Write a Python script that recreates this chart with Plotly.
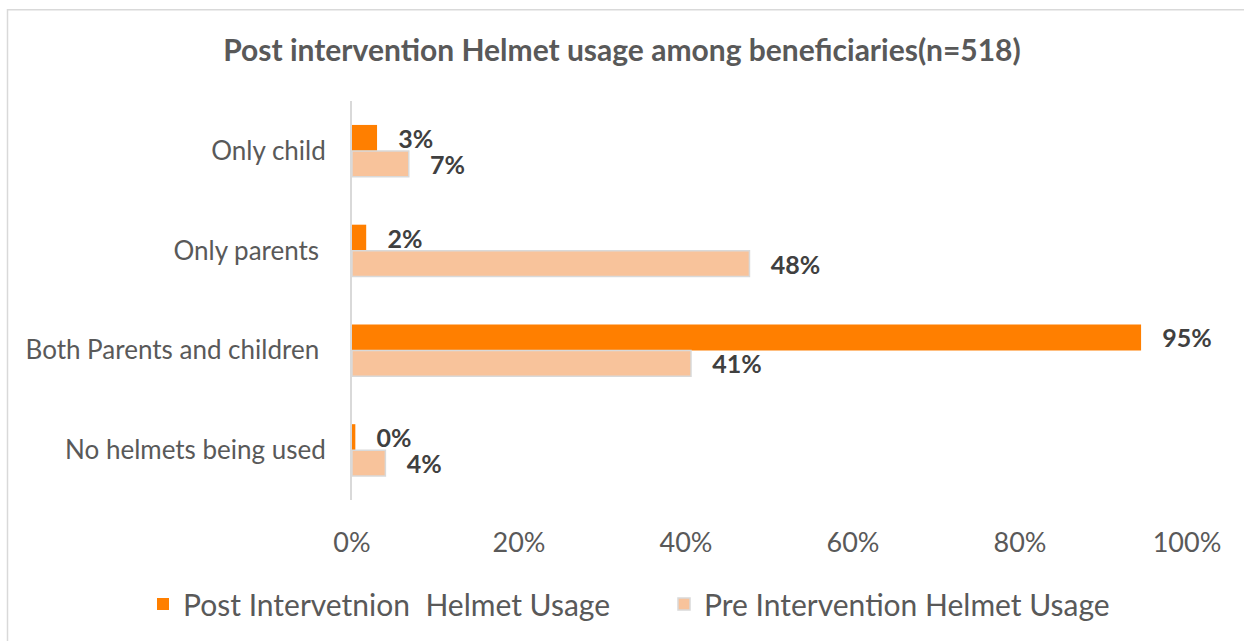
import plotly.graph_objects as go

categories = ["Only child", "Only parents ", "Both Parents and children ", "No helmets being used"]
post_values = [0.03, 0.017, 0.945, 0.004]
post_labels = ["3%", "2%", "95%", "0%"]
pre_values = [0.068, 0.476, 0.406, 0.04]
pre_labels = ["7%", "48%", "41%", "4%"]
series_names = ["Post Intervetnion  Helmet Usage", "Pre Intervention Helmet Usage"]
tick_vals = [0, 0.2, 0.4, 0.6, 0.8, 1.0]
tick_text = ["0%", "20%", "40%", "60%", "80%", "100%"]

FONT = "Lato"
pad = "\u00a0\u00a0\u00a0"
W, H = 1244, 641
L, R, T, B = 352, 57, 101, 140
PW, PH = W - L - R, H - T - B

fig = go.Figure()
fig.add_trace(go.Bar(
    y=categories, x=post_values, name=series_names[0], orientation="h",
    marker=dict(color="#FF7F00", line=dict(width=0)),
    text=[pad + t for t in post_labels], textposition="outside", cliponaxis=False,
    constraintext="none",
    textfont=dict(family=FONT, size=25, color="#404040", weight="bold"),
))
fig.add_trace(go.Bar(
    y=categories, x=pre_values, name=series_names[1], orientation="h",
    marker=dict(color="#F8C39B", line=dict(width=1.5, color="#D9D9D9")),
    text=[pad + t for t in pre_labels], textposition="outside", cliponaxis=False,
    constraintext="none",
    textfont=dict(family=FONT, size=25, color="#404040", weight="bold"),
))

fig.update_layout(
    width=W, height=H,
    barmode="group", bargap=0.48, bargroupgap=0,
    plot_bgcolor="white", paper_bgcolor="white",
    margin=dict(l=L, r=R, t=T, b=B),
    title=dict(text="<b>Post intervention Helmet usage among beneficiaries(n=518)</b>",
               x=0.5, xanchor="center", y=1 - 50 / H, yanchor="middle",
               font=dict(family=FONT, size=30, color="#595959")),
    legend=dict(orientation="h", x=(143 - L) / PW, xanchor="left",
                y=-(604 - (T + PH)) / PH, yanchor="middle",
                font=dict(family=FONT, size=30, color="#595959"),
                traceorder="normal", itemwidth=30, entrywidth=476, entrywidthmode="pixels",
                tracegroupgap=0),
    showlegend=True,
)
fig.update_xaxes(range=[0, 1.0], tickvals=tick_vals, ticktext=tick_text,
                 showgrid=False, zeroline=False, showline=False,
                 tickfont=dict(family=FONT, size=27, color="#595959"),
                 ticks="", ticklabelstandoff=24)
fig.update_yaxes(autorange="reversed", showgrid=False, zeroline=False,
                 showline=True, linecolor="#D9D9D9", linewidth=2,
                 tickfont=dict(family=FONT, size=26, color="#595959"),
                 ticks="", ticklabelstandoff=19)
fig.add_shape(type="rect", xref="paper", yref="paper",
              x0=-(L - 7.5) / PW, x1=1 + 100 / PW, y0=-1, y1=1 + (T - 9.5) / PH,
              line=dict(color="#D9D9D9", width=1.5), fillcolor="rgba(0,0,0,0)", layer="below")

fig.write_html("out.html", config={"displayModeBar": False},
               post_script="document.body.style.margin='0';document.body.style.overflow='hidden';")
